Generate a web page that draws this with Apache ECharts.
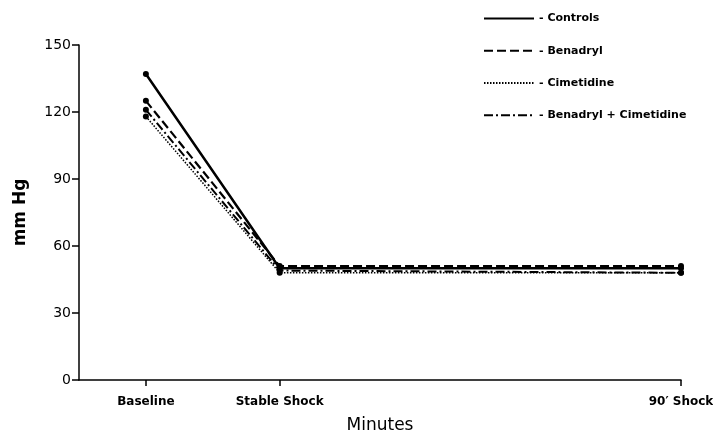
<!DOCTYPE html>
<html>
<head>
<meta charset="utf-8">
<script src="https://cdn.jsdelivr.net/npm/echarts@6/dist/echarts.min.js"></script>
<style>
    html, body { margin: 0; padding: 0; background: #fff; }
    #chart { width: 713px; height: 435px; }
</style>
</head>
<body>
<div id="chart"></div>
<script>
    // minutes relative to stable shock
    var minutes = [-30, 0, 90];
    var xTickLabels = ['Baseline', 'Stable Shock', '90\u2032 Shock'];
    var yTicks = [0, 30, 60, 90, 120, 150];

    var controls = [137, 50, 50];
    var benadryl = [125, 51, 51];
    var cimetidine = [118, 48, 48];
    var benadrylCimetidine = [121, 49, 48];

    function pairs(vals) {
        return minutes.map(function (m, i) { return [m, vals[i]]; });
    }

    var font = 'DejaVu Sans';
    var myChart = echarts.init(document.getElementById('chart'));

    function mkSeries(name, vals, type, width) {
        return {
            name: name,
            type: 'line',
            data: pairs(vals),
            symbol: 'circle',
            symbolSize: 6,
            showSymbol: true,
            itemStyle: { color: '#000' },
            lineStyle: { color: '#000', width: width, type: type },
            animation: false
        };
    }

    var option = {
        backgroundColor: '#fff',
        grid: { left: 79, right: 32, top: 45, bottom: 55, outerBoundsMode: 'none' },
        legend: {
            orient: 'vertical',
            left: 478,
            top: 8,
            itemWidth: 50,
            itemHeight: 14,
            itemGap: 21,
            itemStyle: { opacity: 0 },
            formatter: function (n) { return '- ' + n; },
            textStyle: { fontFamily: font, fontSize: 11, fontWeight: 'bold', color: '#000' }
        },
        xAxis: {
            type: 'value',
            min: -45,
            max: 90,
            splitLine: { show: false },
            axisLine: { lineStyle: { color: '#000', width: 1.5 } },
            axisTick: { customValues: minutes, length: 6, lineStyle: { color: '#000', width: 1.5 } },
            axisLabel: {
                customValues: minutes,
                margin: 16,
                fontFamily: font, fontSize: 12, fontWeight: 'bold', color: '#000',
                formatter: function (v) {
                    var i = minutes.indexOf(v);
                    return i >= 0 ? xTickLabels[i] : '';
                }
            },
            name: 'Minutes',
            nameLocation: 'middle',
            nameGap: 37,
            nameTextStyle: { fontFamily: font, fontSize: 17, color: '#000' }
        },
        yAxis: {
            type: 'value',
            min: 0,
            max: 150,
            interval: 30,
            splitLine: { show: false },
            axisLine: { show: true, onZero: false, lineStyle: { color: '#000', width: 1.5 } },
            axisTick: { show: true, length: 7, lineStyle: { color: '#000', width: 1.5 } },
            axisLabel: {
                margin: 8,
                fontFamily: font, fontSize: 14, color: '#000',
                formatter: function (v) { return yTicks.indexOf(v) >= 0 ? String(v) : ''; }
            },
            name: 'mm Hg',
            nameLocation: 'middle',
            nameGap: 50,
            nameTextStyle: { fontFamily: font, fontSize: 17, fontWeight: 'bold', color: '#000' }
        },
        series: [
            mkSeries('Controls', controls, 'solid', 2.5),
            mkSeries('Benadryl', benadryl, [9, 4], 2.2),
            mkSeries('Cimetidine', cimetidine, [1.5, 1.5], 1.5),
            mkSeries('Benadryl + Cimetidine', benadrylCimetidine, [9, 3, 2, 3], 2)
        ]
    };
    myChart.setOption(option);
</script>
</body>
</html>
